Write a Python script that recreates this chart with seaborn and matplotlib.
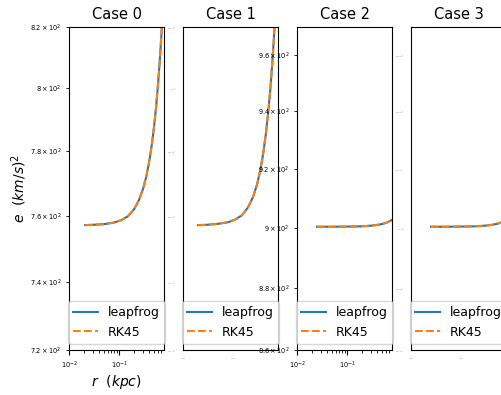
import matplotlib
matplotlib.use("Agg")
import matplotlib.pyplot as plt
import seaborn as sns
import numpy as np

# Specific energy e versus radius r for four runs, integrated with two schemes
r_case0 = [0.021, 0.03, 0.05, 0.08, 0.11, 0.15, 0.2, 0.25, 0.3, 0.35, 0.4,
           0.45, 0.5, 0.55, 0.6, 0.65, 0.7, 0.75, 0.79]
e_case0 = [757.1, 757.2, 757.4, 757.9, 758.6, 759.8, 762.0, 764.8, 768.2,
           772.1, 776.7, 781.9, 787.8, 794.2, 801.3, 809.0, 817.3, 826.2, 834.0]

r_case1 = [0.020, 0.03, 0.05, 0.08, 0.11, 0.15, 0.2, 0.25, 0.3, 0.35, 0.4,
           0.45, 0.5, 0.55, 0.6, 0.65, 0.7, 0.75]
e_case1 = [757.1, 757.2, 757.5, 758.0, 758.8, 760.1, 762.6, 765.7, 769.5,
           774.0, 779.3, 785.2, 791.8, 799.0, 807.0, 815.6, 825.0, 835.0]

r_case2 = [0.025, 0.05, 0.1, 0.15, 0.2, 0.3, 0.4, 0.5, 0.6, 0.7, 0.79]
e_case2 = [900.4, 900.4, 900.45, 900.5, 900.55, 900.75, 901.0, 901.3, 901.7,
           902.2, 902.7]

r_case3 = [0.025, 0.05, 0.1, 0.15, 0.2, 0.3, 0.4, 0.5, 0.6, 0.7, 0.79]
e_case3 = [900.4, 900.4, 900.45, 900.5, 900.55, 900.75, 901.0, 901.3, 901.7,
           902.2, 902.7]

case_titles = ["Case 0", "Case 1", "Case 2", "Case 3"]
method_labels = ["leapfrog", "RK45"]
x_limits = (0.01, 0.79)
y_limits = [(720, 820), (720, 820), (860, 970), (860, 970)]

runs = [(r_case0, e_case0), (r_case1, e_case1),
        (r_case2, e_case2), (r_case3, e_case3)]

fig, axes = plt.subplots(1, 4, figsize=(5.02, 3.95), dpi=100)
fig.subplots_adjust(left=0.1375, right=1.008, bottom=0.114, top=0.932,
                    wspace=0.2)
axes[1].sharey(axes[0])
axes[3].sharey(axes[2])

for i, (ax, (r, e)) in enumerate(zip(axes, runs)):
    sns.lineplot(x=r, y=e, ax=ax, color="C0", label=method_labels[0],
                 linewidth=1.5)
    sns.lineplot(x=r, y=e, ax=ax, color="C1", label=method_labels[1],
                 linestyle="--", linewidth=1.5)
    ax.set_xscale("log")
    ax.set_yscale("log")
    ax.set_xlim(*x_limits)
    ax.set_ylim(*y_limits[i])
    ax.set_title(case_titles[i], fontsize=10.5)
    ax.legend(loc="lower center", fontsize=9)
    if i % 2 == 0:
        ax.tick_params(which="both", labelsize=4.8)
    else:
        ax.tick_params(which="both", length=0, labelsize=1.2,
                       labelcolor="0.5", pad=4.5)

axes[0].set_xlabel(r"$r\ \ (kpc)$", fontsize=10, labelpad=1.5)
axes[0].set_ylabel(r"$e\ \ (km/s)^2$", fontsize=10, labelpad=0.5)

fig.savefig("out.png", dpi=100)
